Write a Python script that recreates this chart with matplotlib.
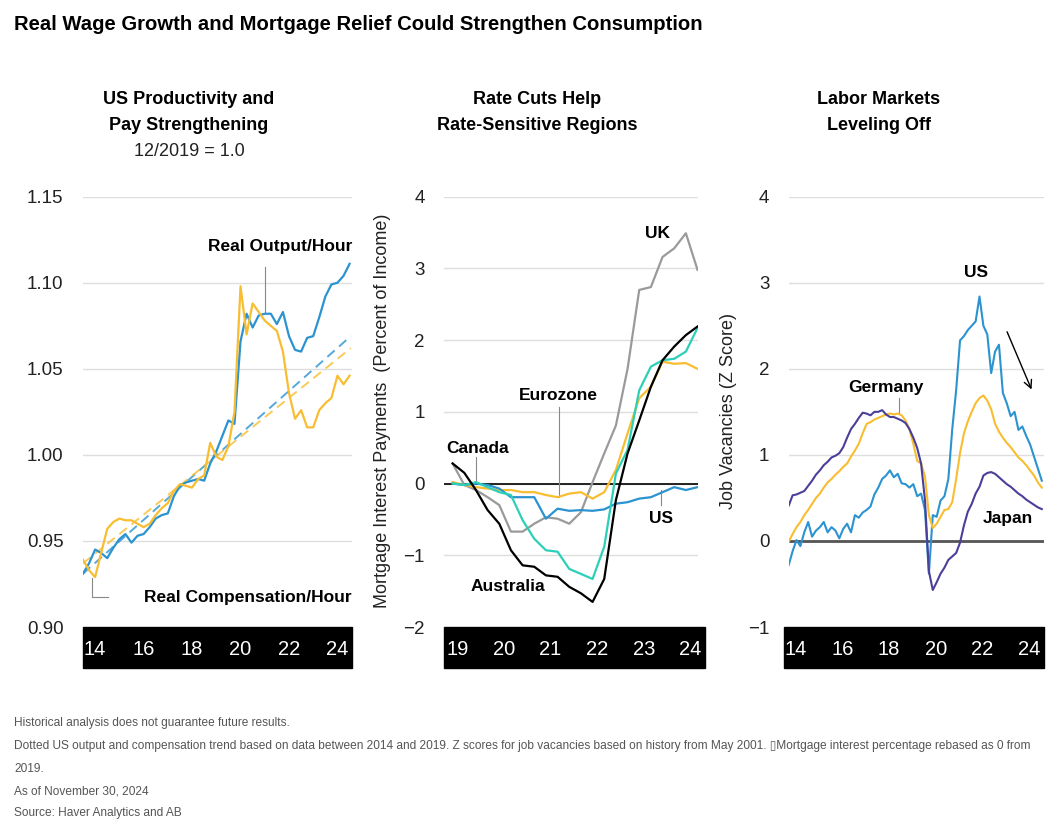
import numpy as np
import matplotlib.pyplot as plt
from matplotlib.patches import Rectangle

plt.rcParams['font.family'] = ['Liberation Sans', 'DejaVu Sans']
NARROW = ['Liberation Sans Narrow', 'Liberation Sans', 'DejaVu Sans']

# ---- panel 1: US productivity and pay (quarterly, 12/2019 = 1.0)
p1_years = np.arange(2014, 2025.01, 0.25)
output_hour = [0.931, 0.937, 0.945, 0.943, 0.940, 0.946, 0.951, 0.954, 0.949, 0.953,
               0.954, 0.958, 0.963, 0.965, 0.966, 0.976, 0.982, 0.984, 0.985, 0.986,
               0.985, 0.995, 1.002, 1.011, 1.020, 1.018, 1.066, 1.082, 1.074, 1.081,
               1.082, 1.082, 1.076, 1.083, 1.069, 1.061, 1.060, 1.068, 1.069, 1.080,
               1.092, 1.099, 1.100, 1.104, 1.111]
comp_hour = [0.939, 0.933, 0.929, 0.943, 0.957, 0.961, 0.963, 0.962, 0.962, 0.960,
             0.958, 0.960, 0.965, 0.969, 0.972, 0.979, 0.983, 0.982, 0.981, 0.986,
             0.988, 1.007, 0.999, 0.997, 1.005, 1.025, 1.098, 1.070, 1.088, 1.083,
             1.078, 1.075, 1.072, 1.060, 1.036, 1.021, 1.026, 1.016, 1.016, 1.026,
             1.030, 1.033, 1.046, 1.041, 1.046]
trend_years = [2014.0, 2025.05]
trend_output = [0.931, 1.069]
trend_comp = [0.937, 1.062]

# ---- panel 2: mortgage interest payments, % of income (quarterly)
p2_years = np.arange(2019.4, 2024.7, 0.25)
uk = [0.28, -0.02, -0.09, -0.19, -0.30, -0.67, -0.67, -0.56, -0.47, -0.49, -0.56,
      -0.40, 0.02, 0.42, 0.81, 1.60, 2.70, 2.74, 3.16, 3.28, 3.49, 2.98]
australia = [0.28, 0.15, -0.09, -0.37, -0.56, -0.93, -1.14, -1.16, -1.28, -1.30, -1.44,
             -1.53, -1.65, -1.33, -0.23, 0.42, 0.88, 1.35, 1.72, 1.91, 2.07, 2.19]
canada = [0.00, -0.02, 0.02, -0.05, -0.12, -0.16, -0.51, -0.77, -0.93, -0.95, -1.19,
          -1.26, -1.33, -0.88, 0.14, 0.47, 1.30, 1.63, 1.72, 1.74, 1.84, 2.17]
eurozone = [0.02, -0.02, -0.05, -0.07, -0.09, -0.09, -0.12, -0.12, -0.16, -0.19, -0.14,
            -0.12, -0.21, -0.12, 0.19, 0.70, 1.19, 1.35, 1.70, 1.67, 1.68, 1.60]
us_mort = [0.00, -0.02, 0.00, -0.02, -0.07, -0.19, -0.19, -0.19, -0.49, -0.35, -0.38,
           -0.37, -0.38, -0.36, -0.28, -0.26, -0.21, -0.19, -0.12, -0.05, -0.09, -0.05]

# ---- panel 3: job vacancies, z score (every two months)
p3_years = np.arange(66) / 6 + 2014.2
us_vac = [-0.28, -0.12, 0.01, -0.06, 0.10, 0.22, 0.05, 0.12, 0.16, 0.22, 0.10, 0.16,
          0.12, 0.03, 0.14, 0.20, 0.10, 0.30, 0.27, 0.33, 0.36, 0.40, 0.54, 0.62,
          0.72, 0.76, 0.82, 0.74, 0.78, 0.67, 0.66, 0.62, 0.66, 0.52, 0.55, 0.36,
          -0.38, 0.30, 0.28, 0.47, 0.52, 0.72, 1.30, 1.75, 2.33, 2.38, 2.45, 2.50,
          2.55, 2.84, 2.50, 2.40, 1.95, 2.20, 2.28, 1.72, 1.60, 1.45, 1.50, 1.29,
          1.33, 1.22, 1.12, 0.98, 0.84, 0.70]
germany = [-0.01, 0.08, 0.16, 0.22, 0.30, 0.36, 0.43, 0.50, 0.55, 0.62, 0.68, 0.72,
           0.77, 0.81, 0.86, 0.90, 0.98, 1.05, 1.13, 1.25, 1.36, 1.38, 1.41, 1.43,
           1.45, 1.47, 1.48, 1.47, 1.48, 1.46, 1.40, 1.30, 1.13, 0.93, 0.90, 0.75,
           0.30, 0.15, 0.20, 0.28, 0.36, 0.37, 0.45, 0.72, 1.02, 1.25, 1.39, 1.50,
           1.60, 1.66, 1.69, 1.63, 1.53, 1.36, 1.27, 1.20, 1.14, 1.09, 1.03, 0.97,
           0.93, 0.88, 0.82, 0.76, 0.68, 0.62]
japan = [0.41, 0.53, 0.54, 0.56, 0.58, 0.64, 0.70, 0.77, 0.82, 0.88, 0.92, 0.97,
         0.99, 1.02, 1.09, 1.20, 1.30, 1.36, 1.43, 1.49, 1.48, 1.46, 1.50, 1.50,
         1.52, 1.47, 1.44, 1.44, 1.42, 1.40, 1.37, 1.30, 1.20, 1.08, 0.90, 0.47,
         -0.35, -0.57, -0.48, -0.38, -0.31, -0.22, -0.18, -0.14, -0.02, 0.18, 0.34, 0.43,
         0.55, 0.63, 0.76, 0.79, 0.80, 0.78, 0.74, 0.70, 0.66, 0.63, 0.59, 0.55,
         0.52, 0.48, 0.45, 0.42, 0.39, 0.37]

BLUE = '#2b93cf'
YELLOW = '#f8bd30'
GRAY = '#9a9a9a'
TEAL = '#2ccfb8'
PURPLE = '#4a3f99'

W, H = 1059, 830
fig = plt.figure(figsize=(W / 100, H / 100), dpi=100)


def px_axes(left, right, top=196.7, bottom=627):
    return fig.add_axes([left / W, 1 - bottom / H, (right - left) / W, (bottom - top) / H])


def style(ax, yticks, xticks, xlabels, fmt=None, bar_l=0, bar_r=0):
    # bar_l / bar_r: extra pixels of the black date band outside the axes
    for s in ax.spines.values():
        s.set_visible(False)
    ax.set_axisbelow(True)
    ax.set_yticks(yticks)
    if fmt:
        ax.set_yticklabels([fmt % v for v in yticks])
    ax.set_ylim(yticks[0], yticks[-1])
    ax.yaxis.grid(True, color='#dedede', lw=1)
    ax.tick_params(axis='y', length=0, pad=14, labelsize=13.5, labelcolor='#222222')
    ax.set_xticks(xticks)
    ax.set_xticklabels(xlabels)
    ax.tick_params(axis='x', length=0, pad=9, labelsize=14.5, labelcolor='white')
    wpx = ax.get_position().width * W
    ax.add_patch(Rectangle((-bar_l / wpx, -41 / 430), 1 + (bar_l + bar_r) / wpx, 41 / 430,
                           transform=ax.transAxes, color='black', clip_on=False, zorder=0.1))


lbl = dict(fontsize=12.5, fontweight='bold', color='black')

# ---- panel 1
ax1 = px_axes(83, 352)
ax1.plot(p1_years, output_hour, color=BLUE, lw=1.6, zorder=3)
ax1.plot(p1_years, comp_hour, color=YELLOW, lw=1.6, zorder=3)
ax1.plot(trend_years, trend_output, color=BLUE, lw=1.4, ls=(0, (5, 3)), alpha=0.8)
ax1.plot(trend_years, trend_comp, color=YELLOW, lw=1.4, ls=(0, (5, 3)), alpha=0.8)
ax1.set_xlim(2014, 2025.1)
style(ax1, [0.90, 0.95, 1.00, 1.05, 1.10, 1.15],
      [2014.5, 2016.5, 2018.5, 2020.5, 2022.5, 2024.5], ['14', '16', '18', '20', '22', '24'], '%.2f')
ax1.text(2025.1, 1.121, 'Real Output/Hour', ha='right', va='center', **lbl)
ax1.plot([2021.52, 2021.52], [1.109, 1.083], color='#888888', lw=0.8)
ax1.text(2025.1, 0.9173, 'Real Compensation/Hour', ha='right', va='center', **lbl)
ax1.plot([2014.36, 2014.36, 2015.02], [0.9283, 0.9173, 0.9173], color='#888888', lw=0.8)

# ---- panel 2
ax2 = px_axes(444, 698)
ax2.plot(p2_years, uk, color=GRAY, lw=1.6, zorder=3)
ax2.plot(p2_years, eurozone, color=YELLOW, lw=1.6, zorder=3)
ax2.plot(p2_years, us_mort, color=BLUE, lw=1.6, zorder=3)
ax2.plot(p2_years, canada, color=TEAL, lw=1.6, zorder=3)
ax2.plot(p2_years, australia, color='black', lw=1.6, zorder=3)
ax2.axhline(0, color='black', lw=1.2, zorder=2)
ax2.set_xlim(2019.215, 2024.66)
style(ax2, [-2, -1, 0, 1, 2, 3, 4],
      [2019.5, 2020.5, 2021.5, 2022.5, 2023.5, 2024.5], ['19', '20', '21', '22', '23', '24'],
      bar_r=7)
ax2.text(-0.244, 0.502, 'Mortgage Interest Payments  (Percent of Income)', rotation=90,
         ha='center', va='center', fontsize=13, color='#222222', transform=ax2.transAxes)
ax2.text(2023.80, 3.49, 'UK', ha='center', va='center', **lbl)
ax2.text(2021.66, 1.23, 'Eurozone', ha='center', va='center', **lbl)
ax2.plot([2021.67, 2021.67], [1.07, -0.19], color='#888888', lw=0.8)
ax2.text(2019.93, 0.49, 'Canada', ha='center', va='center', **lbl)
ax2.plot([2019.91, 2019.91], [0.37, 0.02], color='#888888', lw=0.8)
ax2.text(2020.59, -1.44, 'Australia', ha='center', va='center', **lbl)
ax2.text(2023.87, -0.49, 'US', ha='center', va='center', **lbl)
ax2.plot([2023.86, 2023.86], [-0.09, -0.30], color='#888888', lw=0.8)

# ---- panel 3
ax3 = px_axes(788.7, 1044.3)
ax3.plot(p3_years, us_vac, color=BLUE, lw=1.5, zorder=3)
ax3.plot(p3_years, germany, color=YELLOW, lw=1.5, zorder=3)
ax3.plot(p3_years, japan, color=PURPLE, lw=1.5, zorder=3)
ax3.axhline(0, color='#555555', lw=2, zorder=2)
ax3.set_xlim(2014.2, 2025.14)
style(ax3, [-1, 0, 1, 2, 3, 4],
      [2014.5, 2016.5, 2018.5, 2020.5, 2022.5, 2024.5], ['14', '16', '18', '20', '22', '24'],
      bar_l=5)
ax3.text(-0.237, 0.502, 'Job Vacancies (Z Score)', rotation=90,
         ha='center', va='center', fontsize=13, color='#222222', transform=ax3.transAxes)
ax3.text(2022.20, 3.12, 'US', ha='center', va='center', **lbl)
ax3.text(2018.37, 1.78, 'Germany', ha='center', va='center', **lbl)
ax3.plot([2018.94, 2018.94], [1.66, 1.48], color='#888888', lw=0.8)
ax3.text(2023.57, 0.26, 'Japan', ha='center', va='center', **lbl)
ax3.annotate('', xy=(2024.64, 1.73), xytext=(2023.50, 2.46),
             arrowprops=dict(arrowstyle='->', color='black', lw=1, mutation_scale=14))

# ---- titles and notes
def ftext(x, y, s, **kw):
    fig.text(x / W, 1 - y / H, s, va='center', **kw)


ftext(14, 25, 'Real Wage Growth and Mortgage Relief Could Strengthen Consumption',
      ha='left', fontsize=14.6, fontweight='bold', family=NARROW)
for cx, lines in [(189, ['US Productivity and', 'Pay Strengthening']),
                  (537, ['Rate Cuts Help', 'Rate-Sensitive Regions']),
                  (879, ['Labor Markets', 'Leveling Off'])]:
    ftext(cx, 100, lines[0], ha='center', fontsize=13, fontweight='bold', family=NARROW)
    ftext(cx, 126, lines[1], ha='center', fontsize=13, fontweight='bold', family=NARROW)
ftext(189, 152, '12/2019 = 1.0', ha='center', fontsize=13, family=NARROW, color='#222222')

notes = ['Historical analysis does not guarantee future results.',
         'Dotted US output and compensation trend based on data between 2014 and 2019. '
         'Z scores for job vacancies based on history from May 2001. \u25afMortgage interest '
         'percentage rebased as 0 from',
         '2019.',
         'As of November 30, 2024',
         'Source: Haver Analytics and AB']
for y, s in zip([723, 746, 769, 791, 813], notes):
    ftext(14, y, s, ha='left', fontsize=8.6, color='#555555', family=NARROW)

fig.savefig('out.png', dpi=100)
